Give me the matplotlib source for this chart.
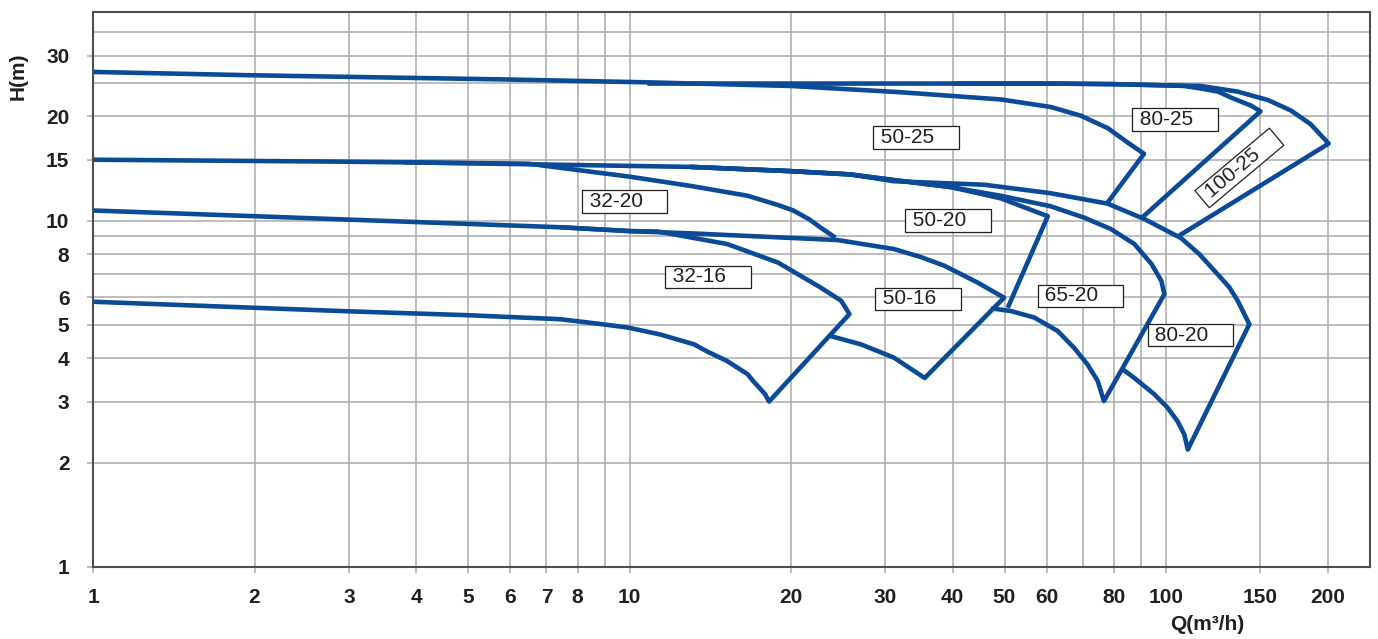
import matplotlib
matplotlib.use("Agg")
import matplotlib.pyplot as plt
import numpy as np

plt.rcParams['font.family'] = ['Liberation Sans', 'DejaVu Sans']

# ---------------- data (Q in m3/h, H in m) ----------------
# 25 m family
Q_50_25 = [1.0, 2.0, 5.75, 10.8, 20, 32, 49.2, 61, 69.4, 77.9, 84.9, 91]
H_50_25 = [26.9, 26.3, 25.6, 25.1, 24.5, 23.5, 22.4, 21.3, 20.1, 18.5, 16.8, 15.6]
Q_50_25_END = [77.9]
H_50_25_END = [11.3]

Q_80_25 = [10.8, 20, 40, 61, 80, 100, 108, 116, 125, 132, 144, 150]
H_80_25 = [24.9, 24.9, 24.9, 24.9, 24.8, 24.6, 24.5, 24.1, 23.6, 22.7, 21.5, 20.7]
Q_80_25_END = [90.2]
H_80_25_END = [10.2]

Q_100_25 = [40, 61, 80, 100, 116, 136, 155, 171, 186, 201]
H_100_25 = [24.9, 24.9, 24.8, 24.6, 24.5, 23.6, 22.3, 20.8, 19.0, 16.7]
Q_100_25_END = [105.8]
H_100_25_END = [9.05]

# 20 m family
Q_32_20 = [1.0, 3.0, 6.5, 10, 13, 16.6, 18.9, 20.2, 21.6, 22.7, 24.2]
H_32_20 = [15.0, 14.8, 14.6, 13.4, 12.6, 11.8, 11.1, 10.7, 10.1, 9.55, 8.93]

Q_50_20 = [3.8, 13, 20, 25.8, 31.1, 39.7, 49.2, 60.2]
H_50_20 = [14.75, 14.3, 13.9, 13.6, 13.1, 12.5, 11.6, 10.3]
Q_50_20_END = [50.7]
H_50_20_END = [5.6]

Q_65_20 = [13, 20, 25.8, 31.1, 39.7, 49.2, 61, 70.4, 78.9, 87.3, 94, 98, 99.3]
H_65_20 = [14.3, 13.9, 13.6, 13.1, 12.5, 11.8, 11.0, 10.2, 9.46, 8.56, 7.49, 6.70, 6.13]
Q_65_20_MIN = [47.2, 51.4, 56.8, 62.8, 67.4, 71.4, 74.6, 76.6]
H_65_20_MIN = [5.58, 5.48, 5.25, 4.80, 4.29, 3.84, 3.44, 3.01]

Q_80_20 = [13, 20, 25.8, 31.1, 45.8, 61, 77.8, 91.2, 106.7, 115.4, 124.8, 131.3, 136, 143]
H_80_20 = [14.3, 13.9, 13.6, 13.0, 12.7, 12.0, 11.2, 10.1, 8.9, 8.0, 7.0, 6.41, 5.87, 5.02]
Q_80_20_MIN = [83.0, 87.3, 95.1, 100.7, 105.1, 108.2, 109.8]
H_80_20_MIN = [3.72, 3.51, 3.15, 2.88, 2.63, 2.41, 2.18]

# 16 m family
Q_32_16 = [1.0, 2.0, 7.43, 10, 11.3, 15.2, 18.9, 22.7, 24.8, 25.7]
H_32_16 = [10.7, 10.3, 9.57, 9.33, 9.3, 8.56, 7.57, 6.41, 5.87, 5.37]
Q_32_16_MIN = [1.0, 3.0, 5.0, 7.43, 8.8, 9.93, 11.4, 13.2, 13.9, 15.2, 16.6, 17.0, 17.9, 18.2]
H_32_16_MIN = [5.83, 5.47, 5.33, 5.19, 5.03, 4.91, 4.69, 4.39, 4.20, 3.93, 3.60, 3.44, 3.15, 3.0]

Q_50_16 = [7.43, 10, 13, 24.4, 31.1, 34.9, 38.6, 44.5, 49.9]
H_50_16 = [9.57, 9.33, 9.19, 8.79, 8.28, 7.85, 7.41, 6.63, 5.99]
Q_50_16_MIN = [23.7, 27.0, 31.1, 35.5]
H_50_16_MIN = [4.64, 4.39, 4.02, 3.51]

# labels: text, Q, H, rotation
LABELS = ['50-25', '80-25', '100-25', '32-20', '50-20', '32-16', '50-16', '65-20', '80-20']
LABEL_Q = [34.2, 104, 137, 9.79, 39.2, 14.0, 34.5, 69.2, 111]
LABEL_H = [17.4, 19.6, 14.2, 11.35, 10.0, 6.88, 5.94, 6.06, 4.67]
LABEL_ROT = [0, 0, 40, 0, 0, 0, 0, 0, 0]

# axes ticks / grid
X_TICKS = [1, 2, 3, 4, 5, 6, 7, 8, 10, 20, 30, 40, 50, 60, 80, 100, 150, 200]
X_GRID_EXTRA = [9, 70, 90]
Y_TICKS = [1, 2, 3, 4, 5, 6, 8, 10, 15, 20, 30]
Y_GRID_EXTRA = [7, 9, 25, 35]

# ---------------- figure ----------------
W, H = 1378, 639
fig = plt.figure(figsize=(W / 100, H / 100), dpi=100)
ax = fig.add_axes([93 / W, 1 - 566.7 / H, (1370 - 93) / W, (566.7 - 12.3) / H])
ax.set_xscale('log')
ax.set_yscale('log')
ax.set_xlim(1, 240)
ax.set_ylim(1, 40)

BLUE = '#0a4a96'
LW = 3.3
GRID = '#ababab'
TXT = '#231f20'


def draw(qs, hs):
    ax.plot(qs, hs, color=BLUE, lw=LW, solid_joinstyle='round',
            solid_capstyle='butt', zorder=3)


draw(Q_50_25 + Q_50_25_END, H_50_25 + H_50_25_END)
draw(Q_80_25 + Q_80_25_END, H_80_25 + H_80_25_END)
draw(Q_100_25 + Q_100_25_END, H_100_25 + H_100_25_END)
draw(Q_32_20, H_32_20)
draw(Q_50_20 + Q_50_20_END, H_50_20 + H_50_20_END)
draw(Q_65_20 + Q_65_20_MIN[::-1], H_65_20 + H_65_20_MIN[::-1])
draw(Q_80_20 + Q_80_20_MIN[::-1], H_80_20 + H_80_20_MIN[::-1])
draw(Q_32_16 + Q_32_16_MIN[::-1], H_32_16 + H_32_16_MIN[::-1])
draw(Q_50_16 + Q_50_16_MIN[::-1], H_50_16 + H_50_16_MIN[::-1])

for txt, q, h, r in zip(LABELS, LABEL_Q, LABEL_H, LABEL_ROT):
    ax.text(q, h, ' ' + txt + '    ', ha='center', va='center', fontsize=15,
            color=TXT, rotation=r, rotation_mode='anchor', zorder=5,
            bbox=dict(boxstyle='square,pad=0.08', fc='white', ec=TXT, lw=0.9))

# ticks & grid
ax.set_xticks(X_TICKS)
ax.set_xticklabels([str(v) for v in X_TICKS])
ax.set_xticks(X_GRID_EXTRA, minor=True)
ax.set_yticks(Y_TICKS)
ax.set_yticklabels([str(v) for v in Y_TICKS])
ax.set_yticks(Y_GRID_EXTRA, minor=True)
ax.set_xticklabels([], minor=True)
ax.set_yticklabels([], minor=True)
ax.grid(True, which='both', color=GRID, lw=1.1, zorder=0)
ax.set_axisbelow(True)
ax.tick_params(which='major', length=4.5, width=1.1, color=GRID,
               labelsize=15, labelcolor=TXT)
ax.tick_params(which='minor', length=0)
ax.tick_params(axis='x', which='major', pad=10.5)
ax.tick_params(axis='y', which='major', pad=12.5)
for lab in ax.get_xticklabels() + ax.get_yticklabels():
    lab.set_fontweight('bold')

for s in ax.spines.values():
    s.set_color('#4d4d4d')
    s.set_linewidth(1.5)
    s.set_zorder(4)

fig.text(18 / W, 1 - 76 / H, 'H(m)', rotation=90, ha='center', va='center',
         fontsize=15, fontweight='bold', color=TXT)
fig.text(1207 / W, 1 - 625 / H, 'Q(m³/h)', ha='center', va='center',
         fontsize=15, fontweight='bold', color=TXT)

fig.savefig('out.png', dpi=100)
